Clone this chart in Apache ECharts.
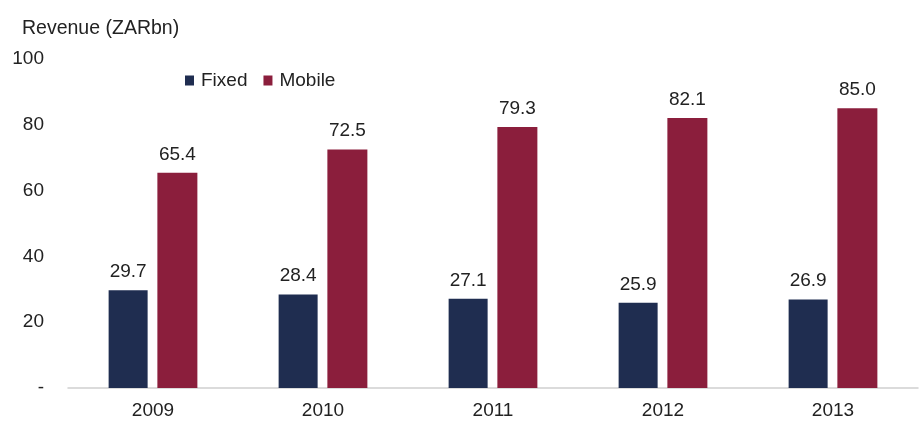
<!DOCTYPE html>
<html>
<head>
<meta charset="utf-8">
<script src="https://cdn.jsdelivr.net/npm/echarts@6/dist/echarts.min.js"></script>
<style>
  html, body { margin: 0; padding: 0; background: #fff; }
  #chart { width: 922px; height: 421px; }
</style>
</head>
<body>
<div id="chart"></div>
<script>
const years = ['2009', '2010', '2011', '2012', '2013']
const fixed = [29.7, 28.4, 27.1, 25.9, 26.9]
const mobile = [65.4, 72.5, 79.3, 82.1, 85.0]
const yTicks = [0, 20, 40, 60, 80, 100]

const chart = echarts.init(document.getElementById('chart'))
const font = 'Liberation Sans, Arial, sans-serif'
const fs = 19

chart.setOption({
  textStyle: { fontFamily: font },
  title: {
    text: 'Revenue (ZARbn)',
    left: 22, top: 19, padding: 0,
    textStyle: { fontSize: 19.5, fontWeight: 'normal', color: '#222', fontFamily: font }
  },
  legend: {
    left: 185, top: 71, padding: 0,
    itemWidth: 9, itemHeight: 10, itemGap: 16,
    icon: 'rect',
    textStyle: { fontSize: fs, color: '#222', fontFamily: font, padding: [0, 0, 0, 2] },
    data: ['Fixed', 'Mobile']
  },
  grid: { left: 68, right: 4, top: 59, bottom: 33 },
  xAxis: {
    type: 'category',
    data: years,
    axisLine: { lineStyle: { color: '#d0d0d0', width: 1.5 } },
    axisTick: { show: false },
    axisLabel: { fontSize: fs, color: '#222', margin: 13 }
  },
  yAxis: {
    type: 'value',
    min: 0, max: 100, interval: 20,
    splitLine: { show: false },
    axisLine: { show: false },
    axisTick: { show: false },
    axisLabel: {
      fontSize: fs, color: '#222', margin: 24,
      formatter: v => yTicks.includes(v) ? (v === 0 ? '-' : String(v)) : ''
    }
  },
  series: [
    {
      name: 'Fixed', type: 'bar', data: fixed,
      barWidth: 39, barGap: '25%',
      itemStyle: { color: '#1f2d50' },
      label: { show: true, position: 'top', distance: 9, fontSize: fs, color: '#222', formatter: p => p.value.toFixed(1) }
    },
    {
      name: 'Mobile', type: 'bar', data: mobile,
      barWidth: 40,
      itemStyle: { color: '#8b1e3c' },
      label: { show: true, position: 'top', distance: 9, fontSize: fs, color: '#222', formatter: p => p.value.toFixed(1) }
    }
  ]
})
</script>
</body>
</html>
